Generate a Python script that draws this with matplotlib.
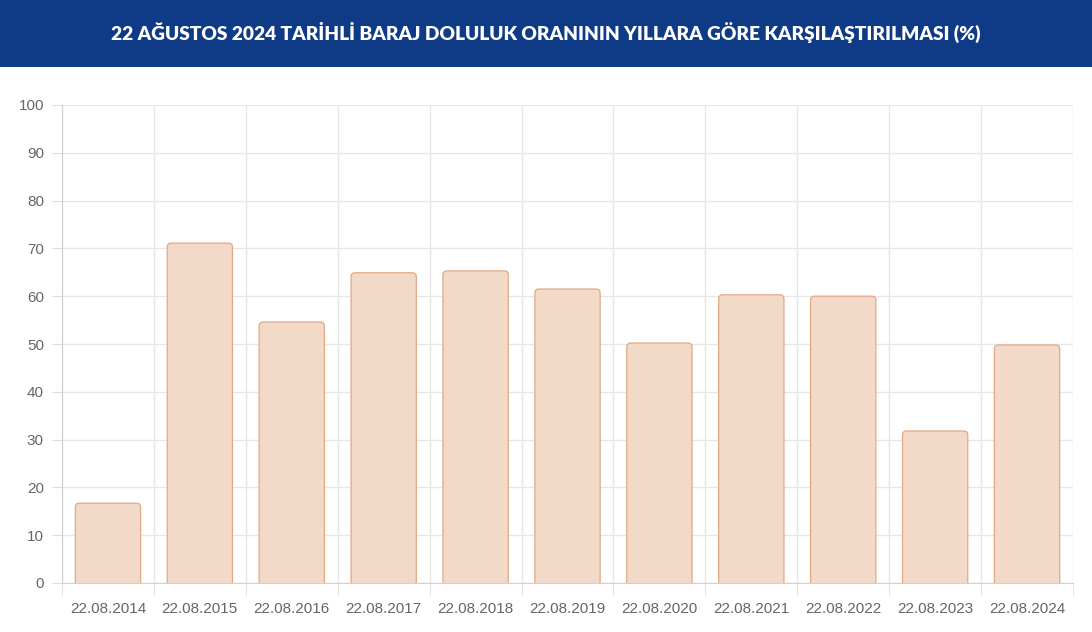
import numpy as np
import matplotlib.pyplot as plt
from matplotlib.patches import FancyBboxPatch, Rectangle

# dam fill ratio on 22 August of each year (%)
dates = ["22.08.2014", "22.08.2015", "22.08.2016", "22.08.2017", "22.08.2018",
         "22.08.2019", "22.08.2020", "22.08.2021", "22.08.2022", "22.08.2023",
         "22.08.2024"]
ratios = [16.7, 71.1, 54.6, 64.9, 65.3, 61.5, 50.2, 60.3, 60.0, 31.8, 49.8]
y_ticks = list(range(0, 101, 10))

fill = "#f3d9c8"
edge = "#e2a985"

fig = plt.figure(figsize=(10.92, 6.32), dpi=100)
fig.patch.set_facecolor("white")

# header band
fig.patches.append(Rectangle((0, 1 - 67 / 632), 1, 67 / 632, transform=fig.transFigure,
                             facecolor="#0f3b86", edgecolor="none", zorder=0))
fig.text(0.5, 1 - 32 / 632, "22 AĞUSTOS 2024 TARİHLİ BARAJ DOLULUK ORANININ YILLARA GÖRE KARŞILAŞTIRILMASI (%)",
         ha="center", va="center", color="white", fontsize=13.8, fontweight="heavy",
         family=["Lato", "DejaVu Sans"])

ax = fig.add_axes([62 / 1092, 49 / 632, (1073 - 62) / 1092, (583 - 105) / 632])
x = np.arange(len(dates))
ax.set_xlim(-0.5, len(dates) - 0.5)
ax.set_ylim(0, 100)

# rounded-top bars, bottom corners pushed below zero and clipped away
w = 0.71
px_x = (1073 - 62) / len(dates)
px_y = (583 - 105) / 100
aspect = px_x / px_y
r = 4 / px_x
for xi, v in zip(x, ratios):
    p = FancyBboxPatch((xi - w / 2 + r, -5 + r * aspect), w - 2 * r, v + 5 - 2 * r * aspect,
                       boxstyle=f"round,pad={r},rounding_size={r}", mutation_aspect=aspect,
                       facecolor=fill, edgecolor=edge, linewidth=0.9, zorder=3)
    ax.add_patch(p)

ax.set_yticks(y_ticks)
ax.set_xticks(x)
ax.set_xticklabels(dates)
ax.set_xticks(np.arange(-0.5, len(dates)), minor=True)
ax.grid(True, which="minor", axis="x", color="#e6e6e6", linewidth=1)
ax.grid(True, which="major", axis="y", color="#e6e6e6", linewidth=1)
ax.set_axisbelow(True)

for s in ["top", "right"]:
    ax.spines[s].set_visible(False)
for s in ["left", "bottom"]:
    ax.spines[s].set_color("#d0d0d0")

ax.tick_params(axis="x", which="major", length=0, pad=14, labelsize=11, labelcolor="#666666")
ax.tick_params(axis="x", which="minor", length=9, color="#dddddd")
ax.tick_params(axis="y", length=7, color="#dddddd", pad=6, labelsize=11, labelcolor="#666666")
for lab in ax.get_xticklabels() + ax.get_yticklabels():
    lab.set_family(["Liberation Sans", "DejaVu Sans"])

fig.savefig("out.png", dpi=100)
